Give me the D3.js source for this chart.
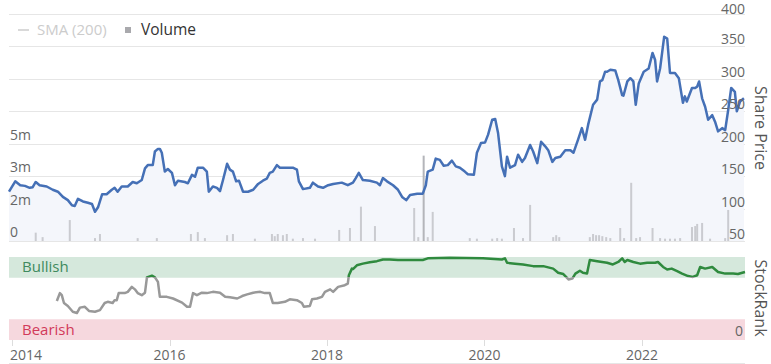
<!DOCTYPE html>
<html lang="en">
<head>
<meta charset="UTF-8">
<title>Share Price and StockRank</title>
<script src="https://d3js.org/d3.v7.min.js"></script>
<style>
  body { margin: 0; background: #fff; }
  svg { display: block; font-family: "Open Sans", Arial, sans-serif; }
  .grid line { stroke: #e6e6e6; stroke-width: 1; }
  .tick-label { fill: #666; font-size: 14px; }
  .axis-title { fill: #555; font-size: 16px; }
</style>
</head>
<body>
<svg id="chart" width="771" height="364"></svg>
<script>
// share price (GBX)
const priceSeries = [
  ["2013-12-17",126],["2014-01-15",142],["2014-02-07",136],["2014-03-01",135],["2014-03-23",132],
  ["2014-04-06",133],["2014-04-20",141],["2014-05-08",136],["2014-06-10",134],["2014-07-08",129],
  ["2014-08-01",126],["2014-08-24",118],["2014-09-16",113],["2014-10-05",105],["2014-10-18",104],
  ["2014-11-02",115],["2014-11-25",111],["2014-12-18",109],["2015-01-06",107],["2015-01-20",95],
  ["2015-02-03",102],["2015-02-22",122],["2015-03-15",122],["2015-04-08",129],["2015-04-21",132],
  ["2015-05-05",126],["2015-05-24",134],["2015-06-21",134],["2015-07-14",141],["2015-08-02",139],
  ["2015-08-25",144],["2015-09-09",162],["2015-09-22",167],["2015-10-15",167],["2015-10-25",188],
  ["2015-11-08",192],["2015-11-17",192],["2015-11-26",186],["2015-12-10",157],["2015-12-24",161],
  ["2016-01-12",155],["2016-01-26",136],["2016-02-09",143],["2016-03-12",141],["2016-03-26",139],
  ["2016-04-14",152],["2016-04-28",149],["2016-05-11",163],["2016-06-04",163],["2016-06-22",157],
  ["2016-07-01",126],["2016-07-20",134],["2016-08-08",132],["2016-08-22",127],["2016-09-05",144],
  ["2016-09-24",169],["2016-10-07",160],["2016-10-21",157],["2016-11-05",142],["2016-11-18",143],
  ["2016-12-07",126],["2016-12-30",126],["2017-01-23",129],["2017-02-15",138],["2017-03-09",143],
  ["2017-03-27",146],["2017-04-10",155],["2017-04-24",157],["2017-05-13",167],["2017-05-27",163],
  ["2017-06-28",163],["2017-07-26",163],["2017-08-14",160],["2017-08-23",142],["2017-09-11",130],
  ["2017-10-13",132],["2017-10-27",140],["2017-11-20",134],["2017-12-13",132],["2018-01-06",136],
  ["2018-01-29",138],["2018-03-10",140],["2018-04-07",136],["2018-05-01",140],["2018-05-14",147],
  ["2018-05-28",155],["2018-06-16",144],["2018-07-18",143],["2018-08-20",140],["2018-09-03",136],
  ["2018-09-17",147],["2018-10-06",142],["2018-11-03",136],["2018-11-26",129],["2018-12-15",118],
  ["2019-01-03",113],["2019-01-21",121],["2019-02-23",123],["2019-03-21",123],["2019-04-04",136],
  ["2019-04-13",157],["2019-05-06",160],["2019-05-20",177],["2019-06-08",175],["2019-06-26",166],
  ["2019-07-15",167],["2019-08-03",174],["2019-08-21",165],["2019-09-09",163],["2019-10-02",157],
  ["2019-10-16",153],["2019-11-13",152],["2019-11-27",186],["2019-12-16",201],["2020-01-04",202],
  ["2020-01-18",214],["2020-02-06",237],["2020-02-20",238],["2020-03-04",217],["2020-03-22",165],
  ["2020-04-05",150],["2020-04-15",180],["2020-04-29",163],["2020-05-22",167],["2020-06-05",183],
  ["2020-06-24",172],["2020-07-07",178],["2020-07-31",198],["2020-08-14",188],["2020-09-02",170],
  ["2020-09-20",203],["2020-10-09",196],["2020-10-23",190],["2020-11-11",172],["2020-11-25",178],
  ["2020-12-18",180],["2021-01-10",190],["2021-02-03",190],["2021-02-17",186],["2021-03-10",206],
  ["2021-03-28",224],["2021-04-12",206],["2021-04-26",229],["2021-05-19",260],["2021-06-07",268],
  ["2021-06-20",296],["2021-07-01",298],["2021-07-14",311],["2021-07-23",311],["2021-08-07",314],
  ["2021-08-30",313],["2021-09-13",298],["2021-10-01",275],["2021-10-07",274],["2021-10-25",296],
  ["2021-11-08",301],["2021-11-22",296],["2021-12-03",260],["2021-12-17",293],["2022-01-09",311],
  ["2022-02-01",316],["2022-02-19",340],["2022-03-03",329],["2022-03-12",296],["2022-03-26",316],
  ["2022-04-14",365],["2022-04-28",362],["2022-05-11",309],["2022-06-03",309],["2022-06-21",301],
  ["2022-07-10",263],["2022-07-19",273],["2022-07-28",265],["2022-08-21",286],["2022-09-05",286],
  ["2022-09-14",288],["2022-09-23",296],["2022-10-07",270],["2022-10-21",257],["2022-11-04",237],
  ["2022-11-23",244],["2022-12-06",234],["2022-12-20",219],["2023-01-08",224],["2023-01-22",221],
  ["2023-02-05",252],["2023-02-19",286],["2023-03-08",280],["2023-03-17",250],["2023-04-01",265],
  ["2023-04-19",270]
];

// volume, millions of shares
const volumeSeries = [
  ["2014-04-20",0.43],["2014-05-22",0.2],["2014-09-25",1.08],["2015-01-20",0.15],["2015-02-12",0.36],
  ["2015-08-06",0.15],["2015-11-03",0.15],["2016-04-09",0.36],["2016-05-11",0.46],["2016-06-13",0.15],
  ["2016-09-24",0.3],["2016-10-21",0.36],["2017-01-31",0.12],["2017-04-20",0.36],["2017-05-03",0.25],
  ["2017-05-17",0.36],["2017-06-10",0.3],["2017-06-28",0.36],["2017-07-26",0.12],["2017-09-11",0.15],
  ["2017-11-06",0.12],["2018-02-26",0.57],["2018-04-17",0.67],["2018-06-07",1.77],["2018-08-11",0.77],
  ["2019-02-09",1.7],["2019-02-28",0.2],["2019-03-25",4.4],["2019-04-13",0.2],["2019-05-06",1.5],
  ["2019-10-25",0.15],["2019-11-27",0.12],["2020-02-06",0.12],["2020-02-29",0.15],["2020-03-22",0.12],
  ["2020-05-17",0.67],["2020-06-28",0.15],["2020-07-31",1.86],["2020-11-15",0.2],["2020-11-29",0.3],
  ["2020-12-13",0.2],["2021-05-04",0.2],["2021-05-19",0.36],["2021-06-02",0.3],["2021-06-16",0.3],
  ["2021-07-01",0.25],["2021-07-19",0.2],["2021-08-07",0.15],["2021-09-22",0.67],["2021-10-10",0.15],
  ["2021-11-12",3.0],["2021-12-05",0.15],["2021-12-23",0.2],["2022-02-19",0.67],["2022-03-26",0.15],
  ["2022-04-18",0.12],["2022-05-11",0.12],["2022-06-03",0.12],["2022-06-27",0.15],["2022-08-21",0.72],
  ["2022-09-05",0.77],["2022-09-14",0.88],["2022-10-07",0.93],["2022-11-13",0.12],["2023-01-22",0.15],
  ["2023-02-05",1.6]
];

// StockRank (0-100)
const rankSeries = [
  ["2014-07-27",47],["2014-08-10",56.5],["2014-08-19",54],["2014-08-29",44.6],["2014-09-16",41],
  ["2014-10-09",34],["2014-10-28",32.5],["2014-11-11",39],["2014-12-04",40],["2014-12-23",35],
  ["2015-01-20",34],["2015-02-12",36],["2015-03-06",44.6],["2015-03-20",46],["2015-04-12",44.6],
  ["2015-04-21",48],["2015-05-01",48],["2015-05-10",56.5],["2015-06-07",56.5],["2015-06-21",58],
  ["2015-07-10",64],["2015-07-24",61],["2015-08-06",56.5],["2015-08-25",54],["2015-09-09",57],
  ["2015-09-18",75.5],["2015-10-11",77.5],["2015-10-25",75.5],["2015-11-08",70],["2015-11-17",52],
  ["2015-12-19",52],["2016-01-17",50],["2016-02-28",45],["2016-03-22",40],["2016-04-05",40],
  ["2016-04-19",56.5],["2016-05-07",54],["2016-05-30",57],["2016-06-22",56.5],["2016-07-20",58],
  ["2016-08-22",57],["2016-09-15",52],["2016-10-07",51.4],["2016-11-10",50],["2016-12-03",53],
  ["2016-12-26",55],["2017-01-23",57],["2017-02-25",58],["2017-03-18",56.5],["2017-04-10",56.5],
  ["2017-04-24",44.6],["2017-05-17",44.6],["2017-06-19",46],["2017-07-12",49],["2017-08-14",48],
  ["2017-09-06",44.6],["2017-09-15",40],["2017-10-13",41],["2017-10-23",49],["2017-11-15",50],
  ["2017-12-08",52],["2017-12-22",58],["2018-01-15",61],["2018-01-29",58],["2018-02-21",64],
  ["2018-03-24",66],["2018-04-07",68],["2018-04-12",78],["2018-04-26",86],["2018-05-01",85.5],
  ["2018-05-19",90],["2018-06-16",92],["2018-07-18",93.6],["2018-08-20",95],["2018-09-17",97],
  ["2018-10-19",97],["2018-11-26",96.4],["2019-03-21",96.4],["2019-04-13",98.4],["2019-07-24",99],
  ["2019-12-25",98.4],["2020-03-22",97],["2020-04-05",98.4],["2020-04-15",93],["2020-05-22",92],
  ["2020-06-28",91],["2020-08-14",89],["2020-09-30",89],["2020-11-15",86],["2020-12-08",81],
  ["2021-01-01",79.5],["2021-01-25",73],["2021-02-12",74],["2021-02-26",80],["2021-03-19",83.5],
  ["2021-04-02",81],["2021-04-21",80],["2021-05-04",96.4],["2021-06-07",95],["2021-07-23",93],
  ["2021-08-19",91],["2021-09-13",94],["2021-10-01",98.4],["2021-10-13",94],["2021-10-25",96.4],
  ["2021-11-22",94],["2021-12-23",92],["2022-01-25",93],["2022-03-03",93],["2022-03-16",94],
  ["2022-04-09",88],["2022-04-28",85],["2022-05-19",86],["2022-06-13",83],["2022-07-06",80],
  ["2022-08-03",77],["2022-08-25",76],["2022-09-14",78],["2022-09-28",88],["2022-10-21",86],
  ["2022-11-23",88],["2022-12-20",82],["2023-01-22",80],["2023-02-28",80],["2023-03-22",79.5],
  ["2023-04-24",82]
];

const priceTicks = [50, 100, 150, 200, 250, 300, 350, 400];
const volumeTicks = [0, 5 / 3, 10 / 3, 5];
const volumeTickLabels = ["0", "2m", "3m", "5m"];
const yearTicks = ["2014", "2016", "2018", "2020", "2022"];
const rankBands = [
  { name: "Bullish", from: 75, to: 100 },
  { name: "Bearish", from: 0, to: 25 }
];

const parse = d3.timeParse("%Y-%m-%d");
const price = priceSeries.map(d => ({ date: parse(d[0]), value: d[1] }));
const volume = volumeSeries.map(d => ({ date: parse(d[0]), value: d[1] }));
const rank = rankSeries.map(d => ({ date: parse(d[0]), value: d[1] }));

const svg = d3.select("#chart");
const left = 9, right = 745;

const x = d3.scaleTime()
  .domain([parse("2013-12-17"), parse("2023-04-24")])
  .range([left, right]);

// top panel
const yPrice = d3.scaleLinear().domain([50, 400]).range([241, 14]);
const yVol = d3.scaleLinear().domain([0, 5]).range([241, 144]);

const grid = svg.append("g").attr("class", "grid");
grid.selectAll("line")
  .data(priceTicks)
  .enter().append("line")
  .attr("x1", left).attr("x2", right)
  .attr("y1", d => Math.round(yPrice(d)) + 0.5)
  .attr("y2", d => Math.round(yPrice(d)) + 0.5);

// price area
svg.append("path")
  .datum(price)
  .attr("fill", "#f4f6fb")
  .attr("d", d3.area().x(d => x(d.date)).y0(yPrice(50)).y1(d => yPrice(d.value)));

// volume bars
svg.append("g").selectAll("rect")
  .data(volume)
  .enter().append("rect")
  .attr("x", d => x(d.date) - 1)
  .attr("width", 2)
  .attr("y", d => yVol(d.value))
  .attr("height", d => yVol(0) - yVol(d.value))
  .attr("fill", d => d.value > 4 ? "#b4b5ba" : "#cacbd0");

// price line
svg.append("path")
  .datum(price)
  .attr("fill", "none")
  .attr("stroke", "#4570b6")
  .attr("stroke-width", 2.5)
  .attr("stroke-linejoin", "round")
  .attr("d", d3.line().x(d => x(d.date)).y(d => yPrice(d.value)));

// price labels (right); top one nudged down so it stays inside
svg.append("g").selectAll("text")
  .data(priceTicks)
  .enter().append("text")
  .attr("class", "tick-label")
  .attr("x", right)
  .attr("y", d => Math.max(yPrice(d) - 2, 14))
  .attr("text-anchor", "end")
  .text(d => d);

// volume labels (left)
svg.append("g").selectAll("text")
  .data(volumeTicks)
  .enter().append("text")
  .attr("class", "tick-label")
  .attr("x", 10)
  .attr("y", d => yVol(d) - 4)
  .text((d, i) => volumeTickLabels[i]);

svg.append("text")
  .attr("class", "axis-title")
  .attr("transform", "translate(755,128) rotate(90)")
  .attr("text-anchor", "middle")
  .text("Share Price");

// legend
const legend = svg.append("g").attr("transform", "translate(18,35)");
legend.append("line")
  .attr("x1", 0).attr("x2", 11).attr("y1", -5).attr("y2", -5)
  .attr("stroke", "#ccc").attr("stroke-width", 1.5);
legend.append("text").attr("x", 19).attr("font-size", 15).attr("fill", "#ccc").text("SMA (200)");
legend.append("rect").attr("x", 107).attr("y", -8).attr("width", 6).attr("height", 6).attr("fill", "#a9a9ad");
legend.append("text").attr("x", 123).attr("font-size", 15.5).attr("fill", "#333").text("Volume");

// StockRank panel
const yRank = d3.scaleLinear().domain([0, 100]).range([340, 257]);

svg.append("g").selectAll("rect")
  .data(rankBands)
  .enter().append("rect")
  .attr("x", left)
  .attr("width", right - left)
  .attr("y", d => yRank(d.to))
  .attr("height", d => yRank(d.from) - yRank(d.to))
  .attr("fill", d => d.name === "Bullish" ? "#d5e8dc" : "#f6d8de");

svg.append("g").selectAll("text")
  .data(rankBands)
  .enter().append("text")
  .attr("x", 22)
  .attr("y", d => (yRank(d.from) + yRank(d.to)) / 2 + 5)
  .attr("font-size", 15)
  .attr("fill", d => d.name === "Bullish" ? "#3f8a5e" : "#d23a5a")
  .text(d => d.name);

svg.append("text")
  .attr("class", "tick-label")
  .attr("x", right - 2)
  .attr("y", yRank(0) - 4)
  .attr("text-anchor", "end")
  .text("0");

const threshold = yRank(76);
const defs = svg.append("defs");
defs.append("clipPath").attr("id", "clip-bull")
  .append("rect").attr("x", 0).attr("y", 0).attr("width", 771).attr("height", threshold);
defs.append("clipPath").attr("id", "clip-neutral")
  .append("rect").attr("x", 0).attr("y", threshold).attr("width", 771).attr("height", 364 - threshold);

const rankLine = d3.line().x(d => x(d.date)).y(d => yRank(d.value));
[["clip-bull", "#2f8a3e"], ["clip-neutral", "#999"]].forEach(([id, color]) => {
  svg.append("path")
    .datum(rank)
    .attr("clip-path", `url(#${id})`)
    .attr("fill", "none")
    .attr("stroke", color)
    .attr("stroke-width", 2.5)
    .attr("stroke-linejoin", "round")
    .attr("d", rankLine);
});

svg.append("text")
  .attr("class", "axis-title")
  .attr("transform", "translate(755,298) rotate(90)")
  .attr("text-anchor", "middle")
  .text("StockRank");

// x axis
const xAxis = svg.append("g");
xAxis.selectAll("line")
  .data(yearTicks)
  .enter().append("line")
  .attr("x1", d => Math.round(x(parse(d + "-01-01"))) + 0.5)
  .attr("x2", d => Math.round(x(parse(d + "-01-01"))) + 0.5)
  .attr("y1", 340).attr("y2", 346)
  .attr("stroke", "#ddd");
xAxis.selectAll("text")
  .data(yearTicks)
  .enter().append("text")
  .attr("class", "tick-label")
  .attr("x", (d, i) => i === 0 ? 10 : x(parse(d + "-01-01")))
  .attr("y", 360)
  .attr("text-anchor", (d, i) => i === 0 ? "start" : "middle")
  .text(d => d);
svg.append("line")
  .attr("x1", left).attr("x2", right)
  .attr("y1", 363.5).attr("y2", 363.5)
  .attr("stroke", "#e6e6e6");
</script>
</body>
</html>
